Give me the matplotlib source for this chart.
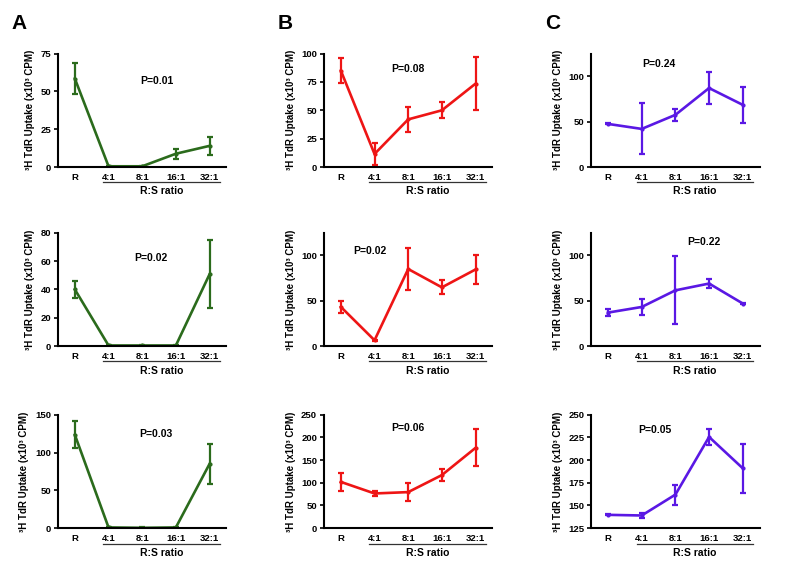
import matplotlib
matplotlib.use("Agg")
import matplotlib.pyplot as plt
import matplotlib.transforms as mtransforms

plt.rcParams['font.family'] = ['Liberation Sans', 'DejaVu Sans']
plt.rcParams['font.weight'] = 'bold'

# --- data (x10^3 CPM) ---
ratios = ['R', '4:1', '8:1', '16:1', '32:1']

a1_mean = [58.5, 0.5, 0.5, 8.8, 14.0]
a1_err = [10.0, 0.3, 0.3, 3.3, 6.0]
a2_mean = [40.0, 0.5, 0.5, 0.5, 50.7]
a2_err = [6.0, 0.4, 0.4, 0.4, 24.0]
a3_mean = [123.5, 1.0, 0.5, 1.0, 85.0]
a3_err = [18.0, 0.5, 0.5, 0.5, 26.5]

b1_mean = [85.0, 11.5, 42.0, 50.0, 73.5]
b1_err = [11.0, 10.0, 11.0, 7.0, 23.5]
b2_mean = [43.3, 6.5, 85.0, 64.8, 84.5]
b2_err = [6.6, 0.5, 23.0, 7.7, 15.5]
b3_mean = [102.0, 76.5, 79.5, 117.0, 177.0]
b3_err = [20.0, 5.0, 19.5, 13.0, 41.0]

c1_mean = [47.5, 42.0, 57.5, 87.0, 68.5]
c1_err = [0.5, 28.0, 6.5, 17.5, 20.0]
c2_mean = [37.0, 43.2, 61.5, 69.0, 47.0]
c2_err = [3.7, 8.4, 37.5, 5.0, 1.0]
c3_mean = [139.7, 139.0, 162.0, 225.5, 191.0]
c3_err = [0.5, 2.7, 11.0, 9.0, 27.0]

p_values = [['P=0.01', 'P=0.02', 'P=0.03'],
            ['P=0.08', 'P=0.02', 'P=0.06'],
            ['P=0.24', 'P=0.22', 'P=0.05']]

colors = ['#2b6b1c', '#ee1515', '#5a18e4']
letters = ['A', 'B', 'C']

means = [[a1_mean, a2_mean, a3_mean], [b1_mean, b2_mean, b3_mean], [c1_mean, c2_mean, c3_mean]]
errs = [[a1_err, a2_err, a3_err], [b1_err, b2_err, b3_err], [c1_err, c2_err, c3_err]]

# y-limits and ticks per panel (col, row)
ylims = [[(0, 75), (0, 80), (0, 150)],
         [(0, 100), (0, 125), (0, 250)],
         [(0, 125), (0, 125), (125, 250)]]
yticks = [[[0, 25, 50, 75], [0, 20, 40, 60, 80], [0, 50, 100, 150]],
          [[0, 25, 50, 75, 100], [0, 50, 100], [0, 50, 100, 150, 200, 250]],
          [[0, 50, 100], [0, 50, 100], [125, 150, 175, 200, 225, 250]]]

# where the P label sits (x in category units, y in data units)
p_pos = [[(2.45, 57), (2.26, 62), (2.4, 125)],
         [(2.0, 86), (0.86, 105), (2.0, 220)],
         [(1.5, 113), (2.86, 115), (1.4, 233)]]

fig = plt.figure(figsize=(8, 5.76), dpi=100)

lefts = [0.0725, 0.405, 0.739]
width = 0.2105
bottoms = [0.710, 0.399, 0.083]
height = 0.197

for c in range(3):
    for r in range(3):
        ax = fig.add_axes([lefts[c], bottoms[r], width, height])
        x = range(len(ratios))
        ax.errorbar(x, means[c][r], yerr=errs[c][r], color=colors[c], lw=1.9,
                    marker='o', ms=2, capsize=2.2, capthick=1.6, elinewidth=1.6)
        ax.set_xlim(-0.5, 4.5)
        ax.set_ylim(*ylims[c][r])
        ax.set_yticks(yticks[c][r])
        ax.set_xticks(list(x))
        ax.set_xticklabels(ratios)
        for s in ['top', 'right']:
            ax.spines[s].set_visible(False)
        for s in ['left', 'bottom']:
            ax.spines[s].set_linewidth(1.5)
        ax.tick_params(axis='both', labelsize=6.8, width=1.2, length=3, pad=2)
        ax.tick_params(axis='x', length=0, pad=4)
        ax.set_ylabel('\u00b3H TdR Uptake (x10\u00b3 CPM)',
                      fontsize=7, fontweight='bold', labelpad=4)

        # R:S ratio bracket under the co-culture ratios
        trans = mtransforms.blended_transform_factory(ax.transData, ax.transAxes)
        ax.plot([0.85, 4.3], [-0.135, -0.135], color='#333333', lw=0.9,
                transform=trans, clip_on=False)
        ax.text(2.57, -0.215, 'R:S ratio', transform=trans, ha='center',
                va='center', fontsize=7.5, fontweight='bold')

        px, py = p_pos[c][r]
        ax.text(px, py, p_values[c][r], ha='center', va='center',
                fontsize=7.5, fontweight='bold')

    fig.text(lefts[c] - 0.058, 0.96, letters[c], fontsize=15, fontweight='bold',
             ha='left', va='center')

fig.savefig('out.png', dpi=100)
